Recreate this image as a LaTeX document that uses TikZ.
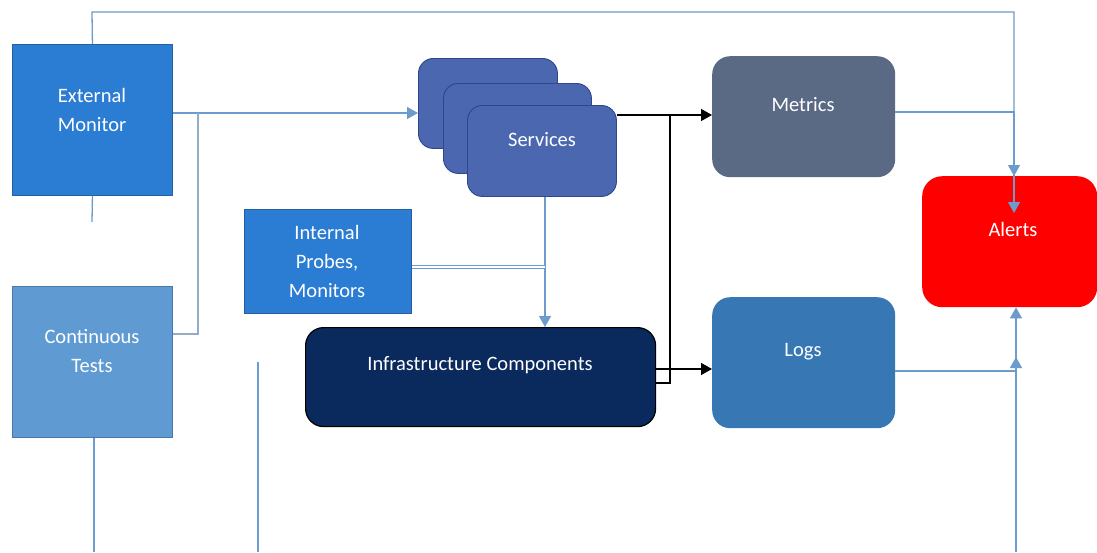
\documentclass[tikz,border=0pt]{standalone}
\usepackage{fontspec}
\setmainfont{Carlito}
\usetikzlibrary{arrows.meta}

\definecolor{extblue}{RGB}{43,124,211}
\definecolor{extedge}{RGB}{38,95,160}
\definecolor{contblue}{RGB}{95,155,210}
\definecolor{contedge}{RGB}{70,120,170}
\definecolor{svcblue}{RGB}{74,103,176}
\definecolor{svcedge}{RGB}{45,70,140}
\definecolor{metricgray}{RGB}{91,106,132}
\definecolor{logsblue}{RGB}{54,119,180}
\definecolor{infrablue}{RGB}{10,42,94}
\definecolor{alertred}{RGB}{255,0,0}
\definecolor{linkblue}{RGB}{108,155,205}
\definecolor{branchgray}{RGB}{150,172,198}

\tikzset{
  sqbox/.style={rectangle, draw=#1, line width=0.9pt, inner sep=0pt, anchor=north west},
  rbox/.style={rectangle, rounded corners=#1, inner sep=0pt, anchor=north west},
  lbl/.style={text=white, font=\fontsize{20.5}{29}\selectfont, align=center, anchor=center, inner sep=0pt},
  link/.style={draw=linkblue, line width=1.3pt},
  branch/.style={draw=branchgray, line width=1.3pt},
  flow/.style={draw=black, line width=1.4pt},
  tip/.style={-{Triangle[length=11pt,width=12pt]}},
}

\begin{document}
\begin{tikzpicture}[x=1pt,y=-1pt]
\fill[white] (0,0) rectangle (1097,552);
\useasboundingbox (0,0) rectangle (1097,552);

% monitors and tests
\node[sqbox=extedge, fill=extblue, minimum width=160pt, minimum height=151pt] (ext) at (12,44) {};
\node[lbl] (extlbl) at (92,110) {External\\Monitor};
\node[sqbox=contedge, fill=contblue, minimum width=160pt, minimum height=151pt] (cont) at (12,286) {};
\node[lbl] (contlbl) at (92,351) {Continuous\\Tests};
\node[sqbox=extedge, fill=extblue, minimum width=167pt, minimum height=104pt] (probes) at (244,209) {};
\node[lbl] (probeslbl) at (327,261) {Internal\\Probes,\\Monitors};

% stacked services
\node[rbox=15pt, draw=svcedge, line width=0.9pt, fill=svcblue, minimum width=139pt, minimum height=90pt] (svcA) at (418,58) {};
\node[rbox=15pt, draw=svcedge, line width=0.9pt, fill=svcblue, minimum width=148pt, minimum height=90pt] (svcB) at (443,83) {};
\node[rbox=15pt, draw=svcedge, line width=0.9pt, fill=svcblue, minimum width=149pt, minimum height=91pt] (svcC) at (467,105) {};
\node[lbl] (svclbl) at (542,140) {Services};

% infrastructure
\node[rbox=18pt, draw=black, line width=1.2pt, fill=infrablue, minimum width=350pt, minimum height=99pt] (infra) at (305,327) {};
\node[lbl] (infralbl) at (480,365) {Infrastructure Components};

% sinks
\node[rbox=18pt, fill=metricgray, minimum width=183pt, minimum height=121pt] (metrics) at (712,56) {};
\node[lbl] (metricslbl) at (803,105) {Metrics};
\node[rbox=18pt, fill=logsblue, minimum width=183pt, minimum height=131pt] (logs) at (712,297) {};
\node[lbl] (logslbl) at (803,352) {Logs};
\node[rbox=20pt, fill=alertred, minimum width=175pt, minimum height=131pt] (alerts) at (922,176) {};
\node[lbl] (alertslbl) at (1013,229) {Alerts};

% routing points
\coordinate (topleft) at (92,12);
\coordinate (topright) at (1014,12);
\coordinate (extstub) at (92,222);
\coordinate (j1) at (198,113);
\coordinate (j2) at (198,334);
\coordinate (contstub) at (94,552);
\coordinate (midtop) at (258,362);
\coordinate (midbot) at (258,552);
\coordinate (metricsjoin) at (1014,112);
\coordinate (metricsend) at (1014,213);
\coordinate (logsjoin) at (1016,371);
\coordinate (logsmark) at (1016,357);
\coordinate (rightbot) at (1016,552);
\coordinate (j5) at (670,115);
\coordinate (j6) at (670,383);
\coordinate (infraout) at (690,369);
\coordinate (drop) at (545,267);

% light connectors
\draw[link, tip] (ext.north) -- (topleft) -- (topright) -- (topright |- alerts.north);
\draw[link] (ext.south) -- (extstub);
\draw[link, tip] (ext.east |- j1) -- (svcA.west |- j1);
\draw[branch] (j1) -- (j2) -- (cont.east |- j2);
\draw[link] (cont.south -| contstub) -- (contstub);
\draw[link] (midtop) -- (midbot);
\draw[link, tip] (metrics.east |- metricsjoin) -- (metricsjoin) -- (metricsend);
\draw[link, tip] (rightbot) -- (logsmark);
\draw[link, tip] (logs.east |- logsjoin) -- (logsjoin) -- (logsjoin |- alerts.south);
\draw[link, tip] (svcC.south -| drop) -- (infra.north -| drop);
\draw[draw=linkblue, line width=0.9pt, double=white, double distance=2.5pt] (probes.east |- drop) -- (drop);

% dark connectors
\draw[flow, tip] (svcC.east |- j5) -- (metrics.west |- j5);
\draw[flow] (j5) -- (j6) -- (infra.east |- j6);
\draw[flow, tip] (infra.east |- infraout) -- (logs.west |- infraout);
\end{tikzpicture}
\end{document}
